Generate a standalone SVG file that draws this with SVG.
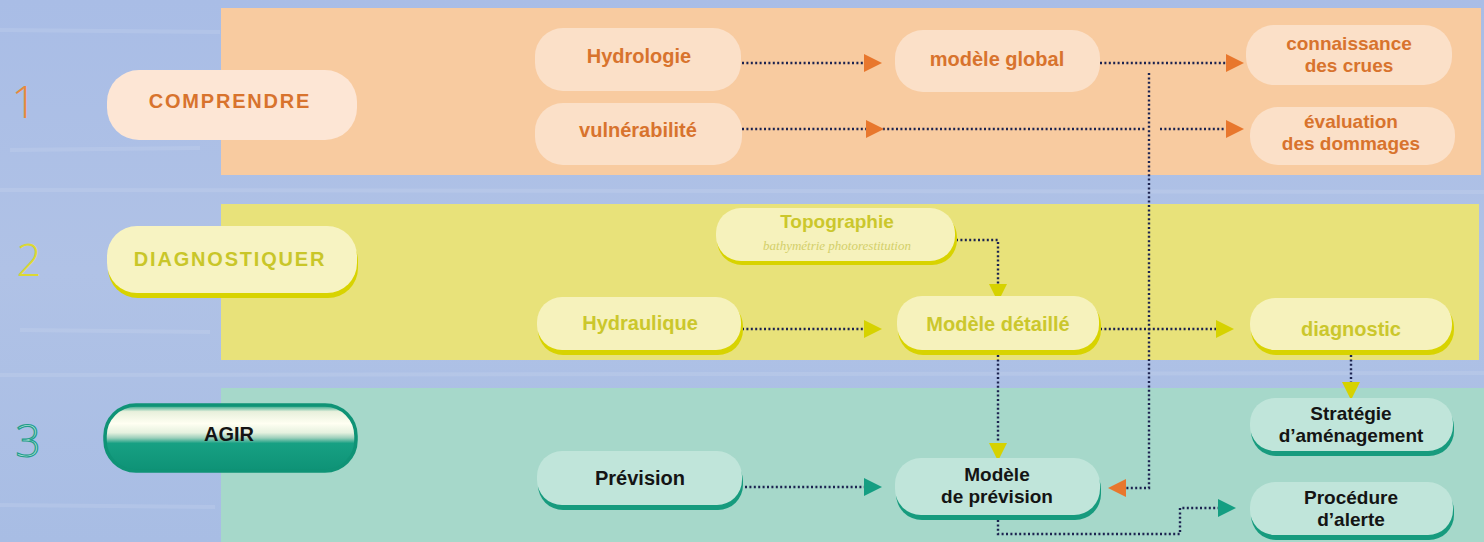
<svg xmlns="http://www.w3.org/2000/svg" width="1484" height="542" viewBox="0 0 1484 542">
<defs>
<style>
.t{font-family:"Liberation Sans",Arial,sans-serif;font-weight:bold;text-anchor:middle;font-size:20px}
.m{font-size:19px}
.o{fill:#d8732d}
.y{fill:#cbc72c}
.g{fill:#141414}
.L{font-size:20px;letter-spacing:1.8px}
.num{font-family:"Open Sans","Liberation Sans",sans-serif;font-weight:300;font-size:44px}
.c{fill:none;stroke:#1c2350;stroke-width:2.4;stroke-dasharray:2 2.4}
.nO{fill:#fbe0c8}
.nY{fill:#f6f2bc}
.sY{fill:#d8d300}
.nG{fill:#c0e5da}
.sG{fill:#179b7e}
</style>
<linearGradient id="agir" x1="0" y1="0" x2="0" y2="1">
<stop offset="0" stop-color="#129a7c"/>
<stop offset="0.1" stop-color="#e8f0dc"/>
<stop offset="0.28" stop-color="#fffff2"/>
<stop offset="0.42" stop-color="#e6f1df"/>
<stop offset="0.5" stop-color="#9ccfbb"/>
<stop offset="0.58" stop-color="#17a083"/>
<stop offset="1" stop-color="#0e9276"/>
</linearGradient>
<linearGradient id="bg" x1="0" y1="0" x2="0" y2="1">
<stop offset="0" stop-color="#a9bde6"/>
<stop offset="0.5" stop-color="#b0c2e6"/>
<stop offset="1" stop-color="#a8bde4"/>
</linearGradient>
<path id="arr" d="M0,-9 L18,0 L0,9 z"/>
</defs>

<rect x="0" y="0" width="1484" height="542" fill="url(#bg)"/>
<g opacity="0.18" stroke="#dbe4f5" stroke-width="4">
<line x1="0" y1="30" x2="220" y2="32"/>
<line x1="10" y1="150" x2="200" y2="148"/>
<line x1="0" y1="190" x2="1484" y2="192"/>
<line x1="20" y1="330" x2="210" y2="332"/>
<line x1="0" y1="375" x2="1484" y2="373"/>
<line x1="0" y1="505" x2="215" y2="507"/>
</g>

<g id="bands">
<rect x="221" y="8" width="1260" height="167" fill="#f8cba0"/>
<rect x="221" y="204" width="1258" height="156" fill="#e8e27a"/>
<rect x="221" y="388" width="1263" height="154" fill="#a6d8ca"/>
</g>

<g id="numbers">
<text class="num" x="24" y="118" fill="#e88a3c" text-anchor="middle">1</text>
<text class="num" x="29" y="276" fill="#dcd832" text-anchor="middle">2</text>
<text class="num" x="28" y="457" fill="#a8e0d6" stroke="#229d8a" stroke-width="1.2" text-anchor="middle">3</text>
</g>

<g id="comprendre">
<rect x="107" y="70" width="250" height="70" rx="32" fill="#fde6d5"/>
<text class="t o L" x="230" y="108">COMPRENDRE</text>
</g>
<g id="diagnostiquer">
<rect x="108" y="231" width="250" height="67" rx="30" fill="#d8d300"/>
<rect x="107" y="226" width="250" height="67" rx="30" fill="#f7f3c2"/>
<text class="t L" x="230" y="266" fill="#c9c629">DIAGNOSTIQUER</text>
</g>
<g id="agir">
<rect x="105" y="405" width="251" height="66" rx="31" fill="url(#agir)" stroke="#0f9376" stroke-width="3.5"/>
<text class="t g" x="229" y="441">AGIR</text>
</g>

<g id="connectors">
<line class="c" x1="742" y1="63" x2="864" y2="63"/>
<line class="c" x1="1100" y1="63" x2="1226" y2="63"/>
<line class="c" x1="742" y1="129" x2="1146" y2="129"/>
<line class="c" x1="1160" y1="129" x2="1226" y2="129"/>
<polyline class="c" points="1149,73 1149,488 1126,488"/>
<polyline class="c" points="956,240 998,240 998,286"/>
<line class="c" x1="742" y1="329" x2="864" y2="329"/>
<line class="c" x1="1100" y1="329" x2="1216" y2="329"/>
<line class="c" x1="998" y1="355" x2="998" y2="444"/>
<line class="c" x1="1351" y1="355" x2="1351" y2="382"/>
<line class="c" x1="745" y1="487" x2="864" y2="487"/>
<polyline class="c" points="998,520 998,534 1180,534 1180,508 1218,508"/>
<use href="#arr" transform="translate(864,63)" fill="#e8772d"/>
<use href="#arr" transform="translate(1226,63)" fill="#e8772d"/>
<use href="#arr" transform="translate(866,129)" fill="#e8772d"/>
<use href="#arr" transform="translate(1226,129)" fill="#e8772d"/>
<use href="#arr" transform="translate(1126,488) rotate(180)" fill="#e8772d"/>
<use href="#arr" transform="translate(998,284) rotate(90)" fill="#d6d200"/>
<use href="#arr" transform="translate(864,329)" fill="#d6d200"/>
<use href="#arr" transform="translate(1216,329)" fill="#d6d200"/>
<use href="#arr" transform="translate(998,443) rotate(90)" fill="#d6d200"/>
<use href="#arr" transform="translate(1351,382) rotate(90)" fill="#d6d200"/>
<use href="#arr" transform="translate(864,487)" fill="#159e82"/>
<use href="#arr" transform="translate(1218,508)" fill="#159e82"/>
</g>

<g id="hydrologie">
<rect x="535" y="28" width="206" height="63" rx="28" class="nO"/>
<text class="t o" x="639" y="63">Hydrologie</text>
</g>
<g id="vulnerabilite">
<rect x="535" y="103" width="207" height="62" rx="28" class="nO"/>
<text class="t o" x="638" y="137">vulnérabilité</text>
</g>
<g id="modele-global">
<rect x="895" y="30" width="205" height="62" rx="28" class="nO"/>
<text class="t o" x="997" y="66">modèle global</text>
</g>
<g id="connaissance">
<rect x="1246" y="25" width="206" height="60" rx="28" class="nO"/>
<text class="t o m" x="1349" y="50">connaissance<tspan x="1349" dy="22">des crues</tspan></text>
</g>
<g id="evaluation">
<rect x="1250" y="107" width="205" height="58" rx="28" class="nO"/>
<text class="t o m" x="1351" y="128">évaluation<tspan x="1351" dy="22">des dommages</tspan></text>
</g>

<g id="topographie">
<rect x="717" y="212" width="240" height="53" rx="25" class="sY"/>
<rect x="716" y="208" width="239" height="53" rx="25" class="nY"/>
<text class="t y m" x="837" y="228">Topographie</text>
<text x="837" y="250" font-family="Liberation Serif,serif" font-style="italic" font-size="13" fill="#d3cf6a" text-anchor="middle">bathymétrie photorestitution</text>
</g>
<g id="hydraulique">
<rect x="538" y="301" width="205" height="54" rx="25" class="sY"/>
<rect x="537" y="297" width="204" height="53" rx="25" class="nY"/>
<text class="t y" x="640" y="330">Hydraulique</text>
</g>
<g id="modele-detaille">
<rect x="898" y="300" width="203" height="55" rx="25" class="sY"/>
<rect x="897" y="296" width="202" height="54" rx="25" class="nY"/>
<text class="t y" x="998" y="331">Modèle détaillé</text>
</g>
<g id="diagnostic">
<rect x="1251" y="302" width="203" height="53" rx="25" class="sY"/>
<rect x="1250" y="298" width="202" height="52" rx="25" class="nY"/>
<text class="t y" x="1351" y="336">diagnostic</text>
</g>

<g id="prevision">
<rect x="538" y="456" width="205" height="54" rx="25" class="sG"/>
<rect x="537" y="451" width="205" height="54" rx="25" class="nG"/>
<text class="t g" x="640" y="485">Prévision</text>
</g>
<g id="modele-prevision">
<rect x="896" y="463" width="205" height="57" rx="26" class="sG"/>
<rect x="895" y="458" width="205" height="57" rx="26" class="nG"/>
<text class="t g m" x="997" y="481">Modèle<tspan x="997" dy="22">de prévision</tspan></text>
</g>
<g id="strategie">
<rect x="1251" y="402" width="203" height="54" rx="25" class="sG"/>
<rect x="1250" y="398" width="203" height="53" rx="25" class="nG"/>
<text class="t g m" x="1351" y="420">Stratégie<tspan x="1351" dy="22">d’aménagement</tspan></text>
</g>
<g id="procedure">
<rect x="1251" y="486" width="203" height="54" rx="25" class="sG"/>
<rect x="1250" y="482" width="203" height="53" rx="25" class="nG"/>
<text class="t g m" x="1351" y="504">Procédure<tspan x="1351" dy="22">d’alerte</tspan></text>
</g>
</svg>
